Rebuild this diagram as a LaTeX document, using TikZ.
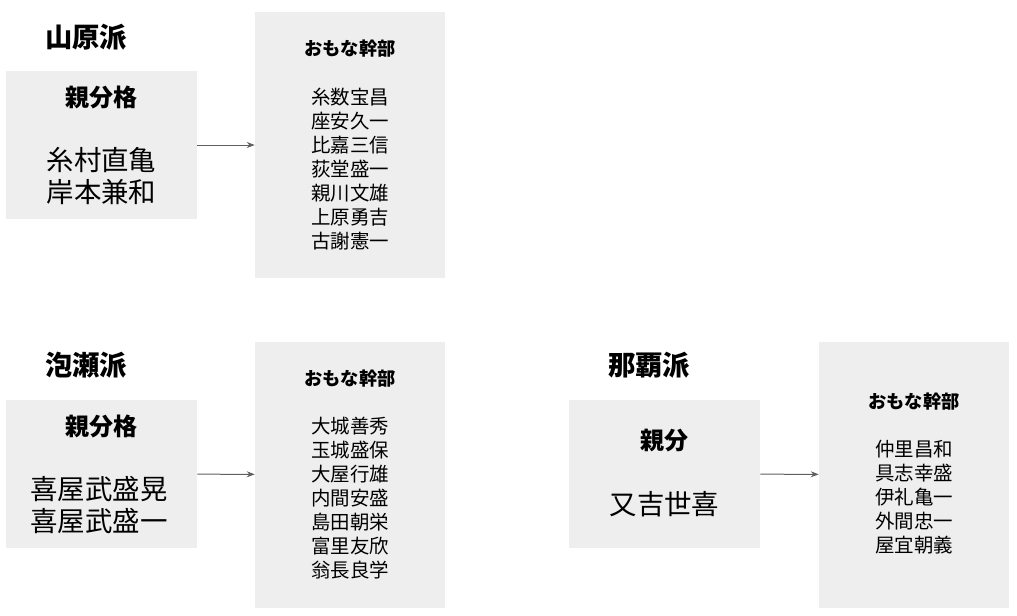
\documentclass[tikz,border=0pt]{standalone}
\usepackage{fontspec}
\setmainfont{Noto Sans CJK JP}
\usepackage{tikz}
\usetikzlibrary{positioning, arrows.meta}
\definecolor{box-gray}{HTML}{EEEEEE}
\definecolor{arrow-gray}{HTML}{5F5F5F}

\begin{document}
\begin{tikzpicture}[x=0.75pt, y=-0.75pt,
	bossbox/.style={fill=box-gray, minimum width=143.25pt, minimum height=111pt, inner sep=0pt},
	staffbox/.style={fill=box-gray, minimum width=142.5pt, minimum height=199.5pt, inner sep=0pt},
	faction/.style={font=\fontsize{20.5}{24}\selectfont\bfseries},
	rank/.style={font=\fontsize{18}{22}\selectfont\bfseries},
	boss/.style={font=\fontsize{20.6}{24}\selectfont, align=center},
	head/.style={font=\fontsize{13.7}{17}\selectfont\bfseries},
	staff/.style={font=\fontsize{14.6}{18}\selectfont, align=center},
	link/.style={-{Stealth[length=6pt, width=4.5pt]}, arrow-gray, line width=0.75pt}]
	\useasboundingbox (0,0) rectangle (1017,615);
	% Yamahara
	\node[faction] (t1) at (86,37) {山原派};
	\node[bossbox] (a1) at (101.5,145) {};
	\node[staffbox] (b1) at (350,145) {};
	\node[rank] (r1) at (101.5,97) {親分格};
	\node[boss] (n1) at (101.5,176) {糸村直亀\\岸本兼和};
	\node[head] (h1) at (350,49) {おもな幹部};
	\node[staff] (s1) at (350,169) {糸数宝昌\\座安久一\\比嘉三信\\荻堂盛一\\親川文雄\\上原勇吉\\古謝憲一};
	% Awase
	\node[faction] (t2) at (86,365) {泡瀬派};
	\node[bossbox] (a2) at (101.5,474) {};
	\node[staffbox] (b2) at (350,474.5) {};
	\node[rank] (r2) at (101.5,426) {親分格};
	\node[boss] (n2) at (99,505) {喜屋武盛晃\\喜屋武盛一};
	\node[head] (h2) at (350,379) {おもな幹部};
	\node[staff] (s2) at (350,498) {大城善秀\\玉城盛保\\大屋行雄\\内間安盛\\島田朝栄\\富里友欣\\翁長良学};
	% Naha
	\node[faction] (t3) at (649,365) {那覇派};
	\node[bossbox] (a3) at (664.5,474) {};
	\node[staffbox] (b3) at (914,474.5) {};
	\node[rank] (r3) at (664.5,441) {親分};
	\node[boss] (n3) at (664.5,504) {又吉世喜};
	\node[head] (h3) at (914,402) {おもな幹部};
	\node[staff] (s3) at (914,497) {仲里昌和\\具志幸盛\\伊礼亀一\\外間忠一\\屋宜朝義};
	\draw
	(a1) edge[link] (b1)
	(a2) edge[link] (b2)
	(a3) edge[link] (b3);
\end{tikzpicture}
\end{document}
